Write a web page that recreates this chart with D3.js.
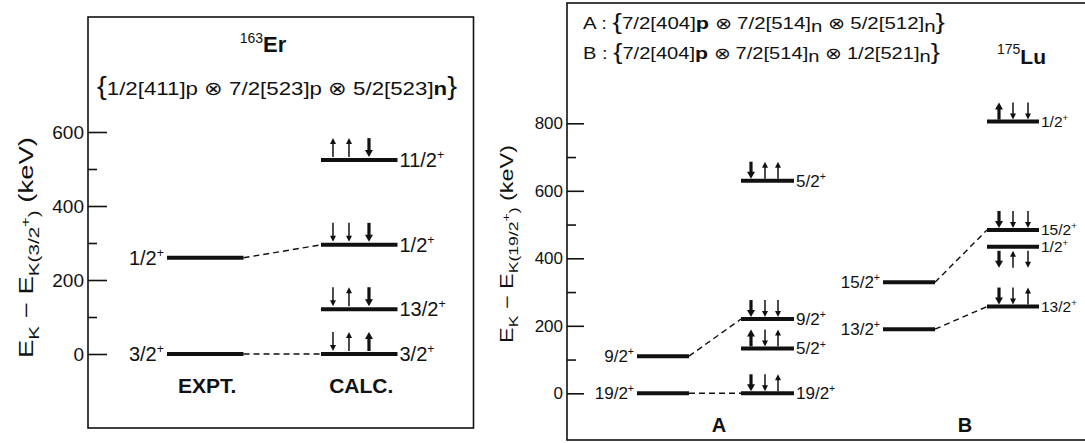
<!DOCTYPE html>
<html><head><meta charset="utf-8">
<script src="https://cdn.jsdelivr.net/npm/d3@7"></script>
<style>
body{margin:0;background:#fff}
svg{display:block}
text{font-family:"Liberation Sans",Arial,sans-serif;fill:#111}
</style>
</head><body>
<svg id="c" width="1085" height="443"></svg>
<script>
// ---------- data ----------
const erTicks = [0, 200, 400, 600];
const erMinor = [100, 300, 500];
const erColumns = ["EXPT.", "CALC."];
const erExptLabels = ["3/2", "1/2"];
const erExptValues = [0, 260];
const erCalcLabels = ["3/2", "13/2", "1/2", "11/2"];
const erCalcValues = [0, 121, 295, 524];
const erCalcSpins = ["duU", "duD", "ddD", "uuD"];   // uppercase = bold arrow
const erLinks = [[0, 0], [1, 2]];                    // [expt index, calc index]

const luTicks = [0, 200, 400, 600, 800];
const luMinor = [100, 300, 500, 700];
const luColumns = ["A-EXPT", "A-CALC", "B-EXPT", "B-CALC"];
const luGroups = ["A", "B"];
const luAExptLabels = ["19/2", "9/2"];
const luAExptValues = [0, 110];
const luACalcLabels = ["19/2", "5/2", "9/2", "5/2"];
const luACalcValues = [0, 133, 220, 630];
const luACalcSpins = ["Ddu", "Udu", "Ddd", "Duu"];
const luALinks = [[0, 0], [1, 2]];
const luBExptLabels = ["13/2", "15/2"];
const luBExptValues = [190, 329];
const luBCalcLabels = ["13/2", "1/2", "15/2", "1/2"];
const luBCalcValues = [257, 434, 484, 805];
const luBCalcSpins = ["Ddu", "Dud", "Ddd", "Udd"];
const luBSpinSide = ["above", "below", "above", "above"];
const luBLinks = [[0, 0], [1, 2]];

// ---------- helpers ----------
const svg = d3.select("#c");
const INK = "#111";

function arrow(g, x, yTop, yBot, dir, bold) {
  const hl = bold ? 7 : 6, hw = bold ? 4 : 3;
  const sw = bold ? 3.2 : 1.5;
  let tip, tail, s;
  if (dir === "u") { tip = yTop; tail = yBot; s = 1; } else { tip = yBot; tail = yTop; s = -1; }
  g.append("line").attr("x1", x).attr("x2", x).attr("y1", tail).attr("y2", tip + s * hl * 0.6)
    .attr("stroke", INK).attr("stroke-width", sw);
  g.append("path").attr("d", `M${x},${tip} L${x - hw},${tip + s * hl} L${x + hw},${tip + s * hl} Z`)
    .attr("fill", INK);
}

function levelLabel(g, x, y, txt, anchor, size) {
  const t = g.append("text").attr("x", x).attr("y", y + size * 0.35)
    .attr("text-anchor", anchor).attr("font-size", size);
  t.append("tspan").text(txt);
  t.append("tspan").attr("dy", -size * 0.4).attr("font-size", size * 0.62).text("+");
}

function drawLevels(g, y, x0, w, labels, values, side, size, thick) {
  values.forEach((v, i) => {
    g.append("line").attr("x1", x0).attr("x2", x0 + w).attr("y1", y(v)).attr("y2", y(v))
      .attr("stroke", INK).attr("stroke-width", thick);
    if (side === "left") levelLabel(g, x0 - 3, y(v), labels[i], "end", size);
    else levelLabel(g, x0 + w + 2, y(v), labels[i], "start", size);
  });
}

function drawSpins(g, y, x0, values, spins, offsets, h, gap, sides) {
  values.forEach((v, i) => {
    const side = sides ? sides[i] : "above";
    const yb = y(v);
    const yTop = side === "above" ? yb - gap - h : yb + gap + 2;
    const yBot = side === "above" ? yb - gap : yb + gap + 2 + h;
    spins[i].split("").forEach((c, k) => {
      arrow(g, x0 + offsets[k], yTop, yBot, c.toLowerCase(), c !== c.toLowerCase());
    });
  });
}

function drawLinks(g, y, xa, xb, va, vb, links) {
  links.forEach(([a, b]) => {
    g.append("line").attr("x1", xa).attr("x2", xb).attr("y1", y(va[a])).attr("y2", y(vb[b]))
      .attr("stroke", INK).attr("stroke-width", 1.4).attr("stroke-dasharray", "6,4");
  });
}

function yAxis(g, y, x, ticks, minor, size, majorLen, minorLen) {
  const gt = g.append("g").attr("transform", `translate(${x},0)`);
  gt.call(d3.axisRight(y).tickValues(ticks).tickSize(majorLen).tickFormat(""));
  const gm = g.append("g").attr("transform", `translate(${x},0)`);
  gm.call(d3.axisRight(y).tickValues(minor).tickSize(minorLen).tickFormat(""));
  const gl = g.append("g").attr("transform", `translate(${x},0)`);
  gl.call(d3.axisLeft(y).tickValues(ticks).tickSize(0).tickPadding(4).tickFormat(d3.format("d")));
  [gt, gm, gl].forEach(a => {
    a.select(".domain").remove();
    a.selectAll("line").attr("stroke", INK).attr("stroke-width", 1.6);
    a.selectAll("text").attr("font-size", size).attr("font-family", "Liberation Sans, Arial, sans-serif").attr("fill", INK);
  });
}

function yLabel(g, x, y, len, size, ref) {
  const t = g.append("text").attr("transform", `translate(${x},${y}) rotate(-90)`)
    .attr("text-anchor", "middle").attr("font-size", size)
    .attr("textLength", len).attr("lengthAdjust", "spacingAndGlyphs");
  const sub = size * 0.75, sh = size * 0.28;
  t.append("tspan").text("E");
  t.append("tspan").attr("dy", sh).attr("font-size", sub).text("K");
  t.append("tspan").attr("dy", -sh).text(" \u2212 E");
  t.append("tspan").attr("dy", sh).attr("font-size", sub).text("K(" + ref);
  t.append("tspan").attr("dy", -sh * 1.6).attr("font-size", sub * 0.8).text("+");
  t.append("tspan").attr("dy", sh * 1.6).attr("font-size", sub).text(")");
  t.append("tspan").attr("dy", -sh).text(" (keV)");
}

// ---------- left panel: 163Er ----------
const gL = svg.append("g");
const yL = d3.scaleLinear().domain([0, 600]).range([354, 132]);
const xL = d3.scaleBand().domain(erColumns).range([167, 397.5]).paddingInner(0.503);
gL.append("rect").attr("x", 88).attr("y", 17).attr("width", 385.5).attr("height", 411)
  .attr("fill", "none").attr("stroke", INK).attr("stroke-width", 1.6);
yAxis(gL, yL, 88, erTicks, erMinor, 19, 19, 9);
yLabel(gL, 33, 247.5, 221, 20, "3/2");

const tEr = gL.append("text").attr("x", 263).attr("y", 52).attr("text-anchor", "middle");
tEr.append("tspan").attr("font-size", 14).attr("dy", -9).text("163");
tEr.append("tspan").attr("font-size", 22).attr("font-weight", "bold").attr("dy", 9).text("Er");

const sEr = gL.append("text").attr("x", 97).attr("y", 95)
  .attr("textLength", 360).attr("lengthAdjust", "spacingAndGlyphs");
sEr.append("tspan").attr("font-size", 25).text("{");
sEr.append("tspan").attr("font-size", 19).text("1/2[411]p \u2297 7/2[523]p \u2297 5/2[523]");
sEr.append("tspan").attr("font-size", 19).attr("font-weight", "bold").text("n");
sEr.append("tspan").attr("font-size", 25).text("}");

const bwL = xL.bandwidth();
drawLinks(gL, yL, xL("EXPT.") + bwL, xL("CALC."), erExptValues, erCalcValues, erLinks);
drawLevels(gL, yL, xL("EXPT."), bwL, erExptLabels, erExptValues, "left", 20, 4);
drawLevels(gL, yL, xL("CALC."), bwL, erCalcLabels, erCalcValues, "right", 20, 4);
drawSpins(gL, yL, xL("CALC."), erCalcValues, erCalcSpins, [12, 28, 48], 19, 3);

erColumns.forEach(c => {
  gL.append("text").attr("x", xL(c) + bwL / 2 + 2).attr("y", 393).attr("text-anchor", "middle")
    .attr("font-size", 21).attr("font-weight", "bold").text(c);
});

// ---------- right panel: 175Lu ----------
const gR = svg.append("g");
const yR = d3.scaleLinear().domain([0, 800]).range([393.3, 123.3]);
const xR = d3.scaleOrdinal().domain(luColumns).range([637, 741, 883, 987]);
const bwR = 52;
gR.append("rect").attr("x", 567).attr("y", 3).attr("width", 530).attr("height", 437)
  .attr("fill", "none").attr("stroke", INK).attr("stroke-width", 1.6);
yAxis(gR, yR, 567, luTicks, luMinor, 17, 17, 9);
yLabel(gR, 513, 244, 198, 18, "19/2");

function header(y, tag, last) {
  const t = gR.append("text").attr("x", 583).attr("y", y).attr("font-size", 16);
  t.append("tspan").text(tag + " : ");
  t.append("tspan").attr("font-size", 22).text("{");
  t.append("tspan").text("7/2[404]");
  t.append("tspan").attr("font-weight", "bold").attr("font-size", 17).text("p");
  t.append("tspan").text(" \u2297 7/2[514]");
  t.append("tspan").attr("dy", 3).text("n");
  t.append("tspan").attr("dy", -3).text(" \u2297 " + last);
  t.append("tspan").attr("dy", 3).text("n");
  t.append("tspan").attr("dy", -3).attr("font-size", 22).text("}");
  return t;
}
header(29, "A", "5/2[512]").attr("textLength", 362).attr("lengthAdjust", "spacingAndGlyphs");
header(59, "B", "1/2[521]").attr("textLength", 357).attr("lengthAdjust", "spacingAndGlyphs");

const tLu = gR.append("text").attr("x", 997).attr("y", 64);
tLu.append("tspan").attr("font-size", 14).attr("dy", -10).text("175");
tLu.append("tspan").attr("font-size", 21).attr("font-weight", "bold").attr("dy", 10).text("Lu");

drawLinks(gR, yR, xR("A-EXPT") + bwR, xR("A-CALC"), luAExptValues, luACalcValues, luALinks);
drawLinks(gR, yR, xR("B-EXPT") + bwR, xR("B-CALC"), luBExptValues, luBCalcValues, luBLinks);
drawLevels(gR, yR, xR("A-EXPT"), bwR, luAExptLabels, luAExptValues, "left", 17, 4);
drawLevels(gR, yR, xR("A-CALC"), bwR + 1, luACalcLabels, luACalcValues, "right", 17, 4);
drawLevels(gR, yR, xR("B-EXPT"), bwR, luBExptLabels, luBExptValues, "left", 17, 4);
drawLevels(gR, yR, xR("B-CALC"), bwR, luBCalcLabels, luBCalcValues, "right", 15.5, 4);
drawSpins(gR, yR, xR("A-CALC"), luACalcValues, luACalcSpins, [10, 24, 37], 17, 2);
drawSpins(gR, yR, xR("B-CALC"), luBCalcValues, luBCalcSpins, [12, 26, 41], 17, 2, luBSpinSide);

luGroups.forEach((gname, i) => {
  const cx = i === 0 ? (xR("A-EXPT") + xR("A-CALC") + bwR) / 2 + 4 : (xR("B-EXPT") + xR("B-CALC") + bwR) / 2 + 4;
  gR.append("text").attr("x", cx).attr("y", 432).attr("text-anchor", "middle")
    .attr("font-size", 20).attr("font-weight", "bold").text(gname);
});
</script>
</body></html>
